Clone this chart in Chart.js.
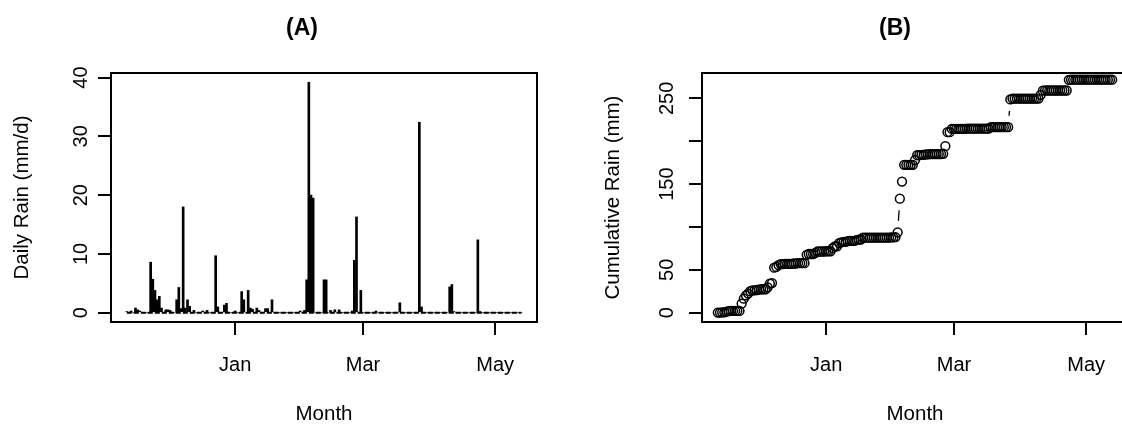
<!DOCTYPE html>
<html>
<head>
<meta charset="utf-8">
<script src="https://cdn.jsdelivr.net/npm/chart.js@4.4.1/dist/chart.umd.min.js"></script>
<style>
  html, body { margin: 0; padding: 0; background: #fff; overflow: hidden; width: 1122px; height: 426px; }
  canvas { position: absolute; top: 0; }
  #rainDaily { left: 0; }
  #rainCum { left: 591px; }
</style>
</head>
<body>
<canvas id="rainDaily" width="561" height="426"></canvas>
<canvas id="rainCum" width="561" height="426"></canvas>
<script>
// Daily rainfall, 12 November to 13 May, one value per day (mm/d).
// Days are counted from 1 January; negative days fall in Nov/Dec.
const firstDay = -50;
const dailyRain = [
  0.2, 0, 0.3, 0, 0.8, 0.5, 0.3, 0, 0, 0,
  0, 8.6, 5.7, 3.8, 2.2, 2.8, 0.8, 0, 0.5, 0.5,
  0.4, 0, 0, 2.2, 4.3, 0.7, 18.0, 0.8, 2.2, 1.1,
  0, 0.4, 0, 0, 0, 0.3, 0, 0.4, 0, 0,
  0, 9.7, 1.0, 0, 0, 1.3, 1.6, 0, 0, 0,
  0.3, 0, 0, 3.6, 2.2, 0, 3.8, 0.8, 0.6, 0,
  0.8, 0.4, 0, 0, 0.7, 0.7, 0, 2.2, 0, 0,
  0, 0, 0, 0, 0, 0, 0, 0, 0, 0,
  0.3, 0, 0.4, 5.6, 39.2, 20.0, 19.5, 0, 0, 0,
  0, 5.6, 5.6, 0, 0.4, 0, 0.5, 0, 0.5, 0,
  0, 0, 0, 0, 0.3, 8.9, 16.3, 0, 3.8, 0,
  0, 0, 0, 0, 0, 0.3, 0, 0, 0, 0,
  0, 0, 0, 0, 0, 0, 1.7, 0, 0, 0,
  0, 0, 0, 0, 0, 32.4, 1.0, 0, 0, 0,
  0, 0, 0, 0, 0, 0, 0, 0, 0, 4.4,
  4.8, 0.2, 0, 0, 0, 0, 0, 0, 0, 0,
  0, 0, 12.4, 0.2, 0, 0, 0, 0, 0, 0,
  0, 0, 0, 0, 0, 0, 0, 0, 0, 0,
  0, 0, 0
];

// Axis ticks
const monthTickDays = [0, 59, 120];
const monthTickLabels = ['Jan', 'Mar', 'May'];
const dailyTicks = [0, 10, 20, 30, 40];
const dailyTickLabels = ['0', '10', '20', '30', '40'];
const cumulativeTicks = [0, 50, 100, 150, 200, 250];
const cumulativeTickLabels = ['0', '50', '', '150', '', '250'];

// Axis limits
const dayRange = [-57.3, 139.3];
const dailyRange = [-1.57, 40.77];
const cumulativeRange = [-10.8, 279.6];

const panelTitles = ['(A)', '(B)'];

// ---------------------------------------------------------------------------
const days = dailyRain.map((_, i) => firstDay + i);
let running = 0;
const cumulativeRain = dailyRain.map(v => (running += v));

const FONT = '"Liberation Sans", Arial, Helvetica, sans-serif';
const INK = '#000';

// Frame round the plotting area plus the panel heading.
const framePlugin = {
  id: 'frame',
  afterDraw(chart, args, opts) {
    const { ctx, chartArea: a } = chart;
    ctx.save();
    ctx.strokeStyle = INK;
    ctx.lineWidth = 2;
    ctx.strokeRect(a.left, a.top, a.right - a.left, a.bottom - a.top);
    ctx.fillStyle = INK;
    ctx.font = 'bold 23px ' + FONT;
    ctx.textAlign = 'center';
    ctx.textBaseline = 'alphabetic';
    ctx.fillText(opts.text, (a.left + a.right) / 2 + opts.shift, opts.baseline);
    ctx.restore();
  }
};

// Lines joining successive points, stopping short of each circle.
const gappedLinePlugin = {
  id: 'gappedLine',
  afterDatasetsDraw(chart, args, opts) {
    if (!opts.enabled) return;
    const pts = chart.getDatasetMeta(0).data;
    const { ctx, chartArea: a } = chart;
    ctx.save();
    ctx.beginPath();
    ctx.rect(a.left, a.top, a.right - a.left, a.bottom - a.top);
    ctx.clip();
    ctx.strokeStyle = INK;
    ctx.lineWidth = opts.width;
    ctx.beginPath();
    for (let i = 1; i < pts.length; i++) {
      const p = pts[i - 1], q = pts[i];
      const dx = q.x - p.x, dy = q.y - p.y;
      const len = Math.hypot(dx, dy);
      if (len <= 2 * opts.gap) continue;
      const ux = dx / len, uy = dy / len;
      ctx.moveTo(p.x + ux * opts.gap, p.y + uy * opts.gap);
      ctx.lineTo(q.x - ux * opts.gap, q.y - uy * opts.gap);
    }
    ctx.stroke();
    ctx.restore();
  }
};

function xAxis() {
  return {
    type: 'linear',
    min: dayRange[0],
    max: dayRange[1],
    offset: false,
    afterBuildTicks: s => { s.ticks = monthTickDays.map(v => ({ value: v })); },
    afterFit: s => { s.height = 104; },
    ticks: {
      autoSkip: false,
      maxRotation: 0,
      padding: 18,
      color: INK,
      font: { family: FONT, size: 20 },
      callback: (v, i) => monthTickLabels[i]
    },
    grid: { display: true, offset: false, drawOnChartArea: false, drawTicks: true, tickLength: 13, lineWidth: 2, color: INK },
    border: { display: true, color: INK, width: 2 },
    title: { display: true, text: 'Month', color: INK, font: { family: FONT, size: 20.5, lineHeight: 1 }, padding: { top: 0, bottom: 1 } }
  };
}

function yAxis(range, ticks, labels, title) {
  return {
    type: 'linear',
    min: range[0],
    max: range[1],
    afterBuildTicks: s => { s.ticks = ticks.map(v => ({ value: v })); },
    afterFit: s => { s.width = 111; },
    ticks: {
      autoSkip: false,
      minRotation: 90,
      maxRotation: 90,
      crossAlign: 'center',
      padding: 5,
      color: INK,
      font: { family: FONT, size: 20 },
      callback: (v, i) => labels[i]
    },
    grid: { display: true, drawOnChartArea: false, drawTicks: true, tickLength: 13, lineWidth: 2, color: INK },
    border: { display: true, color: INK, width: 2 },
    title: { display: true, text: title, color: INK, font: { family: FONT, size: 20.5 }, padding: { top: 10, bottom: 0 } }
  };
}

const common = {
  responsive: false,
  animation: false,
  devicePixelRatio: 1,
  events: [],
  layout: { padding: { left: 0, top: 73, right: 24, bottom: 0 } }
};

// (A) daily rain as vertical spikes over a dashed zero line
new Chart(document.getElementById('rainDaily'), {
  type: 'bar',
  data: {
    datasets: [
      {
        type: 'bar',
        data: dailyRain.map((v, i) => ({ x: days[i], y: v })),
        backgroundColor: INK,
        borderWidth: 0,
        barThickness: 2,
        order: 1
      },
      {
        type: 'line',
        data: [{ x: days[0], y: 0 }, { x: days[days.length - 1], y: 0 }],
        borderColor: INK,
        borderWidth: 1.8,
        borderDash: [5, 2],
        pointRadius: 0,
        order: 2
      }
    ]
  },
  options: Object.assign({}, common, {
    scales: {
      x: xAxis(),
      y: yAxis(dailyRange, dailyTicks, dailyTickLabels, 'Daily Rain (mm/d)')
    },
    plugins: {
      legend: { display: false },
      tooltip: { enabled: false },
      frame: { text: panelTitles[0], shift: -22, baseline: 34.5 },
      gappedLine: { enabled: false }
    }
  }),
  plugins: [framePlugin, gappedLinePlugin]
});

// (B) cumulative rain, open circles joined by gapped lines
new Chart(document.getElementById('rainCum'), {
  type: 'scatter',
  data: {
    datasets: [{
      data: cumulativeRain.map((v, i) => ({ x: days[i], y: v })),
      pointStyle: 'circle',
      pointRadius: 4.4,
      pointBorderWidth: 1.5,
      pointBorderColor: INK,
      pointBackgroundColor: 'rgba(0,0,0,0)',
      showLine: false
    }]
  },
  options: Object.assign({}, common, {
    scales: {
      x: xAxis(),
      y: yAxis(cumulativeRange, cumulativeTicks, cumulativeTickLabels, 'Cumulative Rain (mm)')
    },
    plugins: {
      legend: { display: false },
      tooltip: { enabled: false },
      frame: { text: panelTitles[1], shift: -20, baseline: 34.5 },
      gappedLine: { enabled: true, gap: 11.5, width: 1.3 }
    }
  }),
  plugins: [framePlugin, gappedLinePlugin]
});
</script>
</body>
</html>
